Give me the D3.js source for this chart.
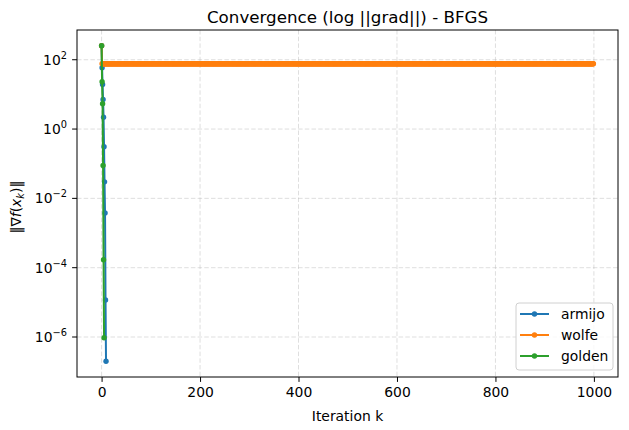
<!DOCTYPE html>
<html>
<head>
<meta charset="utf-8">
<script src="https://cdn.jsdelivr.net/npm/d3@7"></script>
<style>
  body { margin: 0; background: #fff; }
  svg { font-family: "DejaVu Sans", sans-serif; }
</style>
</head>
<body>
<svg width="629" height="430"></svg>
<script>
// gradient norm per iteration
const armijoValues = [253, 58.7, 19.4, 7.1, 2.2, 0.31, 0.030, 0.0038, 1.17e-5, 2.0e-7];
const goldenValues = [253, 23.2, 5.4, 0.089, 1.7e-4, 9.5e-7];
// wolfe stalls on a plateau: [value, number of iterations]
const wolfeRuns = [[253, 1], [76.5, 999]];

const seriesNames = ["armijo", "wolfe", "golden"];
const seriesColors = ["#1f77b4", "#ff7f0e", "#2ca02c"];
const xTicks = [0, 200, 400, 600, 800, 1000];
const yTickExponents = [-6, -4, -2, 0, 2];

const wolfeValues = wolfeRuns.flatMap(([v, n]) => Array(n).fill(v));
const series = [armijoValues, wolfeValues, goldenValues].map((vals, i) => ({
  name: seriesNames[i],
  color: seriesColors[i],
  points: vals.map((v, k) => [k, v])
}));

const svg = d3.select("svg");
const plotL = 77, plotR = 618, plotT = 30, plotB = 377;

// matplotlib-style 5% margins
const allPts = series.flatMap(s => s.points);
const xMax = d3.max(allPts, d => d[0]);
const xPad = xMax * 0.05;
const x = d3.scaleLinear().domain([-xPad, xMax + xPad]).range([plotL, plotR]);
const lmin = Math.log10(d3.min(allPts, d => d[1]));
const lmax = Math.log10(d3.max(allPts, d => d[1]));
const lPad = (lmax - lmin) * 0.05;
const y = d3.scaleLog().domain([10 ** (lmin - lPad), 10 ** (lmax + lPad)]).range([plotB, plotT]);

// grid
const grid = svg.append("g").attr("stroke", "#b0b0b0").attr("stroke-opacity", 0.5)
  .attr("stroke-width", 0.8).attr("stroke-dasharray", "4.5,2.2");
grid.selectAll(".gx").data(xTicks).join("line")
  .attr("x1", d => x(d)).attr("x2", d => x(d)).attr("y1", plotT).attr("y2", plotB);
grid.selectAll(".gy").data(yTickExponents).join("line")
  .attr("x1", plotL).attr("x2", plotR).attr("y1", d => y(10 ** d)).attr("y2", d => y(10 ** d));

// series
const line = d3.line().x(d => x(d[0])).y(d => y(d[1]));
series.forEach(s => {
  const g = svg.append("g");
  g.append("path").attr("d", line(s.points)).attr("fill", "none")
    .attr("stroke", s.color).attr("stroke-width", 2).attr("stroke-linejoin", "round");
  g.selectAll("circle").data(s.points).join("circle")
    .attr("cx", d => x(d[0])).attr("cy", d => y(d[1])).attr("r", 2.7).attr("fill", s.color);
});

// frame
svg.append("rect").attr("x", plotL).attr("y", plotT).attr("width", plotR - plotL).attr("height", plotB - plotT)
  .attr("fill", "none").attr("stroke", "#000").attr("stroke-width", 1);

// x axis
const xa = svg.append("g").attr("transform", `translate(0,${plotB})`)
  .call(d3.axisBottom(x).tickValues(xTicks).tickSize(4.9).tickPadding(5).tickFormat(d3.format("d")));
xa.select(".domain").remove();
xa.selectAll("text").attr("font-size", 13.9).attr("fill", "#000").attr("font-family", "DejaVu Sans");
xa.selectAll("line").attr("stroke", "#000");

// y axis with 10^n labels
const ya = svg.append("g");
yTickExponents.forEach(e => {
  const yy = y(10 ** e);
  ya.append("line").attr("x1", plotL - 4.9).attr("x2", plotL).attr("y1", yy).attr("y2", yy).attr("stroke", "#000");
  const t = ya.append("text").attr("x", plotL - 10).attr("y", yy + 5).attr("text-anchor", "end")
    .attr("font-size", 13.9).attr("fill", "#000");
  t.append("tspan").text("10");
  t.append("tspan").attr("dy", -6).attr("font-size", 9.8).text(e < 0 ? "\u2212" + (-e) : e);
});

// labels
svg.append("text").attr("x", (plotL + plotR) / 2).attr("y", 23).attr("text-anchor", "middle")
  .attr("font-size", 16.7).text("Convergence (log ||grad||) - BFGS");
svg.append("text").attr("x", (plotL + plotR) / 2).attr("y", 421).attr("text-anchor", "middle")
  .attr("font-size", 13.9).text("Iteration k");
const yl = svg.append("text").attr("transform", "translate(21,207) rotate(-90)")
  .attr("text-anchor", "middle").attr("font-size", 13.9);
yl.append("tspan").text("\u2016\u2207");
yl.append("tspan").attr("font-style", "italic").text("f");
yl.append("tspan").text("(");
yl.append("tspan").attr("font-style", "italic").text("x");
yl.append("tspan").attr("font-style", "italic").attr("font-size", 9.8).attr("dy", 3).text("k");
yl.append("tspan").attr("dy", -3).text(")\u2016");

// legend
const lg = svg.append("g").attr("transform", "translate(516,303)");
lg.append("rect").attr("width", 97).attr("height", 67).attr("rx", 3)
  .attr("fill", "#fff").attr("fill-opacity", 0.8).attr("stroke", "#d0d0d0");
series.forEach((s, i) => {
  const yy = 11 + i * 21;
  lg.append("line").attr("x1", 4).attr("x2", 33).attr("y1", yy).attr("y2", yy)
    .attr("stroke", s.color).attr("stroke-width", 2);
  lg.append("circle").attr("cx", 18.5).attr("cy", yy).attr("r", 2.7).attr("fill", s.color);
  lg.append("text").attr("x", 45).attr("y", yy + 5).attr("font-size", 13.9).text(s.name);
});
</script>
</body>
</html>
